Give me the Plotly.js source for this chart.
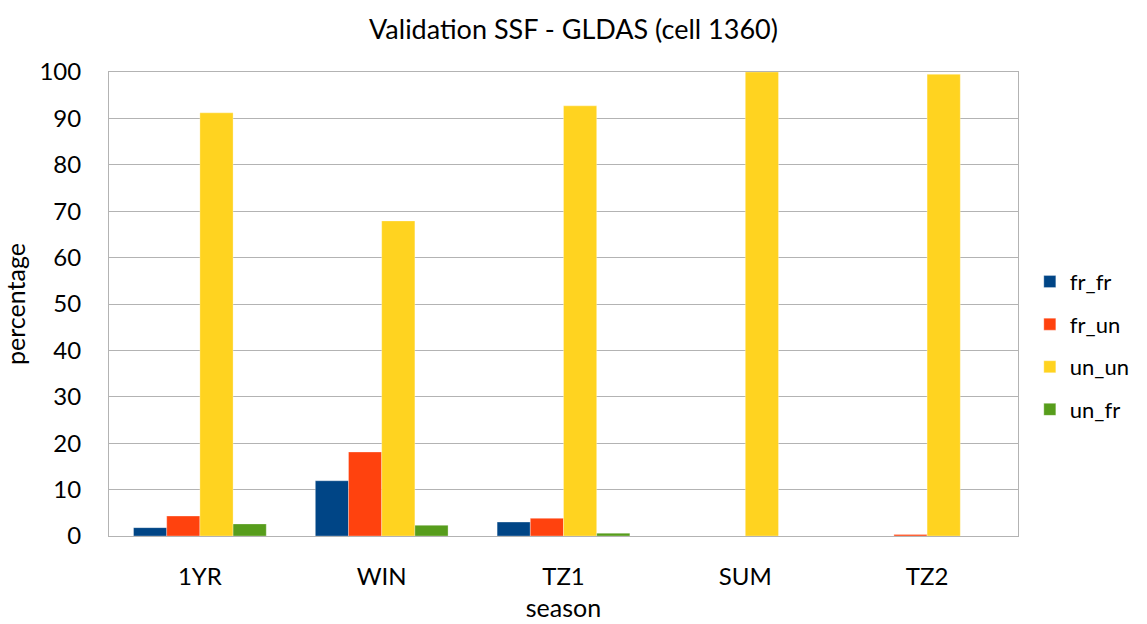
<!DOCTYPE html>
<html>
<head>
<meta charset="utf-8">
<script src="https://cdn.plot.ly/plotly-3.0.1.min.js"></script>
<style>
  html, body { margin: 0; padding: 0; background: #fff; }
  #graph { width: 1147px; height: 624px; }
</style>
</head>
<body>
<div id="graph"></div>
<script>
// saisons (axe x)
var seasons = ['1YR', 'WIN', 'TZ1', 'SUM', 'TZ2'];

// valeurs (pourcentage)
var fr_fr = [1.8, 11.9, 3.0, 0, 0];
var fr_un = [4.3, 18.1, 3.8, 0, 0.3];
var un_un = [91.2, 67.9, 92.7, 100, 99.5];
var un_fr = [2.6, 2.3, 0.6, 0, 0];

var names = ['fr_fr', 'fr_un', 'un_un', 'un_fr'];
var colors = ['#004586', '#ff420e', '#ffd320', '#579d1c'];
var series = [fr_fr, fr_un, un_un, un_fr];

var police = 'Lato, "Open Sans", sans-serif';

var data = [];
for (var i = 0; i < series.length; i++) {
  data.push({
    type: 'bar',
    x: seasons,
    y: series[i],
    name: names[i],
    legendgroup: names[i],
    marker: {
      color: colors[i],
      line: { color: 'rgba(255,255,255,0.6)', width: 0.5 }
    },
    hoverinfo: 'x+y+name'
  });
}

// mise en page du graph
var layout = {
  width: 1147,
  height: 624,
  margin: { l: 109, r: 129, t: 72, b: 88 },
  paper_bgcolor: '#ffffff',
  plot_bgcolor: '#ffffff',
  font: { family: police, color: '#000000', size: 24 },
  title: {
    text: 'Validation SSF - GLDAS (cell 1360)',
    font: { family: police, size: 27, color: '#000000' },
    x: 0.5,
    xanchor: 'center',
    y: 0.952,
    yanchor: 'middle'
  },
  barmode: 'group',
  bargap: 0.27,
  bargroupgap: 0,
  showlegend: true,
  legend: {
    x: 1.013,
    xanchor: 'left',
    y: 0.41,
    yanchor: 'middle',
    traceorder: 'grouped',
    tracegroupgap: 11,
    font: { family: police, size: 22, color: '#000000' },
    itemwidth: 30
  },
  xaxis: {
    title: { text: 'season', font: { family: police, size: 25 }, standoff: 10 },
    tickfont: { family: police, size: 24 },
    showgrid: false,
    zeroline: false,
    showline: true,
    mirror: true,
    linecolor: '#b3b3b3',
    linewidth: 1,
    ticks: 'outside',
    ticklen: 19,
    tickcolor: '#ffffff'
  },
  yaxis: {
    title: { text: 'percentage', font: { family: police, size: 25 }, standoff: 14 },
    tickfont: { family: police, size: 24 },
    range: [0, 100],
    dtick: 10,
    showgrid: true,
    gridcolor: '#b3b3b3',
    gridwidth: 1,
    zeroline: false,
    showline: true,
    mirror: true,
    linecolor: '#b3b3b3',
    linewidth: 1,
    ticks: 'outside',
    ticklen: 22,
    tickcolor: '#ffffff'
  }
};

Plotly.newPlot('graph', data, layout, { displayModeBar: false, staticPlot: true });
</script>
</body>
</html>
